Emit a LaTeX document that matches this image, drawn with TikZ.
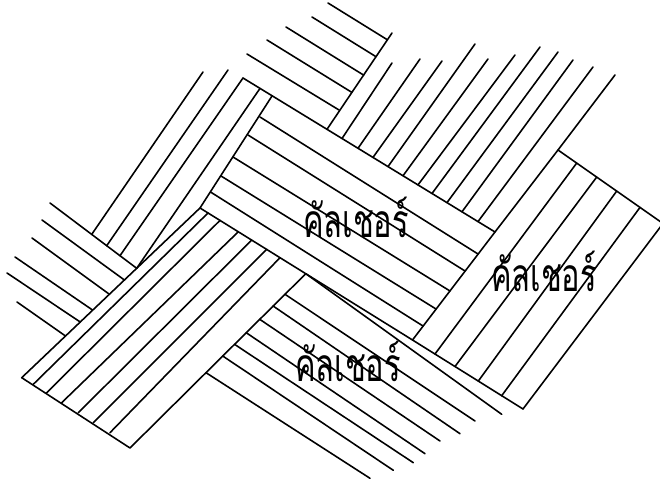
\documentclass[tikz,border=0pt]{standalone}
\usepackage{graphicx}
\usepackage{fontspec}
\newfontfamily\thaifont[Script=Thai]{Loma}
\begin{document}
\begin{tikzpicture}[
  x=0.02cm,y=-0.02cm,
  line/.style={line width=0.9pt,line cap=round,line join=round},
  word/.style={font=\thaifont\fontsize{17.5}{17.5}\selectfont,inner sep=0pt,anchor=base}]
  \useasboundingbox (0,0) rectangle (660,482);
  \clip (0,0) rectangle (660,482);
  \coordinate (Ctl) at (243,78);
  \coordinate (Ctr) at (495,232);
  \coordinate (Cl) at (272,96);
  \coordinate (Cbl) at (200,208);
  \coordinate (Cbr) at (412.5,340);
  \coordinate (Rtl) at (558,150);
  \coordinate (Rtr) at (663,223.5);
  \coordinate (Rbr) at (523,409);
  \coordinate (Bk) at (136.7,268.3);
  \coordinate (Bl) at (21.7,377.7);
  \coordinate (Bb) at (130,448);
  \coordinate (Bt) at (305.8,273.7);
  \coordinate (Rt0) at (392,33);
  \coordinate (Rt0b) at (327,129.3);
  % top block
  \draw[line] (328,3)--(387.4,39.8) (312,17)--(376,56.7) (286,27)--(363.6,75.1)
    (267,40)--(351.7,92.3) (247,54)--(339,110);
  % top right block
  \draw[line] (Rt0)--(Rt0b);
  \draw[line] (392,63)--(342,138.5) (420,59)--(358,148.3) (442,61)--(373,157.4)
    (475,44)--(388,166.6) (488,59)--(403,175.8) (515,55)--(418,184.9)
    (540,47)--(432,193.5) (558,52)--(447,202.6) (573,60)--(462,211.8)
    (593,67)--(478,221.6);
  \draw[line] (615,75)--(Rtl)--(Ctr)--(Cbr);
  % centre block
  \draw[line] (Ctl)--(Ctr);
  \draw[line] (Cl)--(Cbl)--(Cbr)--(Rbr);
  \draw[line] (260,117)--(478,254) (248,135)--(465,271) (233,157)--(450,291)
    (221,176)--(436,309) (210.5,192)--(423,326);
  % right block
  \draw[line] (Rtl)--(Rtr)--(Rbr);
  \draw[line] (576.7,163.1)--(435,354) (596.7,177.1)--(455,366.5)
    (616.7,191.1)--(478.3,381.1) (640,207.4)--(501.7,395.7);
  % left block
  \draw[line] (203,72)--(91.7,234.4) (228,70)--(106.7,245.7) (Ctl)--(120,255.7)
    (260,88.4)--(Bk);
  \draw[line] (Cbl)--(Bk)--(Bl)--(Bb)--(Bt);
  \draw[line] (50,203)--(Bk);
  \draw[line] (42,220)--(124.4,280) (32,238)--(109,294) (15,257)--(92.5,310)
    (7,273)--(80.2,322) (17,302)--(65.5,336);
  % bottom left block
  \draw[line] (33.3,384.3)--(208,213) (46.7,392.7)--(220,220.4)
    (61.7,402.7)--(238.3,231.8) (78.3,412.7)--(251.7,240.1)
    (93.3,422.7)--(266.7,249.4) (110,432.7)--(280,257.7);
  % lower block
  \draw[line] (Bt)--(501.7,414.3);
  \draw[line] (206,372.7)--(370,478.3) (222.7,356)--(393.3,470.3)
    (234.5,344.3)--(413.3,462.7) (246.2,332.7)--(425,453.7)
    (259.7,319.3)--(440,441) (273.1,306)--(460,433.7) (285,294.3)--(475,421);
  \node[word] (w1) at (356,238) {\scalebox{1}[1.5]{คัลเชอร์}};
  \node[word] (w2) at (544,292) {\scalebox{1}[1.5]{คัลเชอร์}};
  \node[word] (w3) at (348,382) {\scalebox{1}[1.5]{คัลเชอร์}};
\end{tikzpicture}
\end{document}
